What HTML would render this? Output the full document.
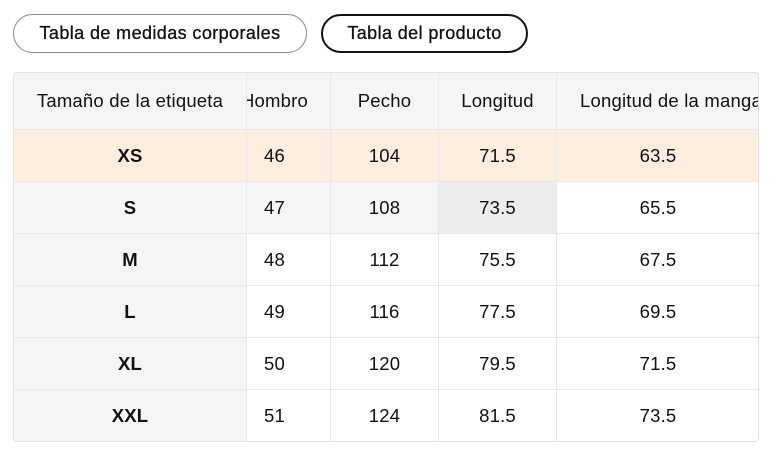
<!DOCTYPE html>
<html><head><meta charset="utf-8"><style>
body{margin:0;width:778px;height:458px;background:#fff;font-family:"Liberation Sans",Arial,sans-serif;color:#111;position:relative;overflow:hidden}
.btn{position:absolute;top:14px;height:39px;box-sizing:border-box;border-radius:20px;font-size:18px;letter-spacing:0.4px;font-weight:500;display:flex;align-items:center;justify-content:center;-webkit-text-stroke:0.3px #111}
.c{position:absolute;box-sizing:border-box;border-right:1px solid #e8e8e8;border-bottom:1px solid #e8e8e8;display:flex;align-items:center;justify-content:center;font-size:18.5px;letter-spacing:0.2px;overflow:hidden;white-space:nowrap}
.wrap{position:absolute;left:13px;top:72px;width:746px;height:370px;border:1px solid #e2e2e2;border-radius:4px;overflow:hidden;box-sizing:border-box}
</style></head><body>
<div class="btn" style="left:13px;width:294px;border:1px solid #8a8a8a">Tabla de medidas corporales</div>
<div class="btn" style="left:321px;width:207px;border:2px solid #111">Tabla del producto</div>
<div class="wrap" id="w"></div>
<script>
const w=document.getElementById('w');
const cols=[[0,233],[233,84],[317,108],[425,118],[543,203]];
const rows=[["XS",46,104,"71.5","63.5"],["S",47,108,"73.5","65.5"],["M",48,112,"75.5","67.5"],["L",49,116,"77.5","69.5"],["XL",50,120,"79.5","71.5"],["XXL",51,124,"81.5","73.5"]];
let h='';
const head=["Tamaño de la etiqueta","Hombro","Pecho","Longitud","Longitud de la manga"];
head.forEach((t,i)=>{let st=`left:${cols[i][0]}px;top:0;width:${cols[i][1]}px;height:57px;background:#f5f5f5;`;
if(i==1)st+="justify-content:flex-start;padding-left:0;";
if(i==1)t='<span style="margin-left:-6px">'+t+'</span>';
if(i==4)st+="justify-content:flex-start;padding-left:23px;";
h+=`<div class="c" style="${st}">${t}</div>`;});
rows.forEach((r,ri)=>{const top=57+ri*52;r.forEach((v,i)=>{let bg='#fff';
if(ri==0)bg='#fdeee0';else if(i==0)bg='#f5f5f5';
if(ri==1&&(i==1||i==2))bg='#f5f5f5';if(ri==1&&i==3)bg='#ececec';
let st=`left:${cols[i][0]}px;top:${top}px;width:${cols[i][1]}px;height:52px;background:${bg};`;
if(i==0)st+="font-weight:bold;";
if(i==1)st+="justify-content:flex-start;padding-left:17px;";
h+=`<div class="c" style="${st}">${v}</div>`;});});
w.innerHTML=h;
</script>
</body></html>
